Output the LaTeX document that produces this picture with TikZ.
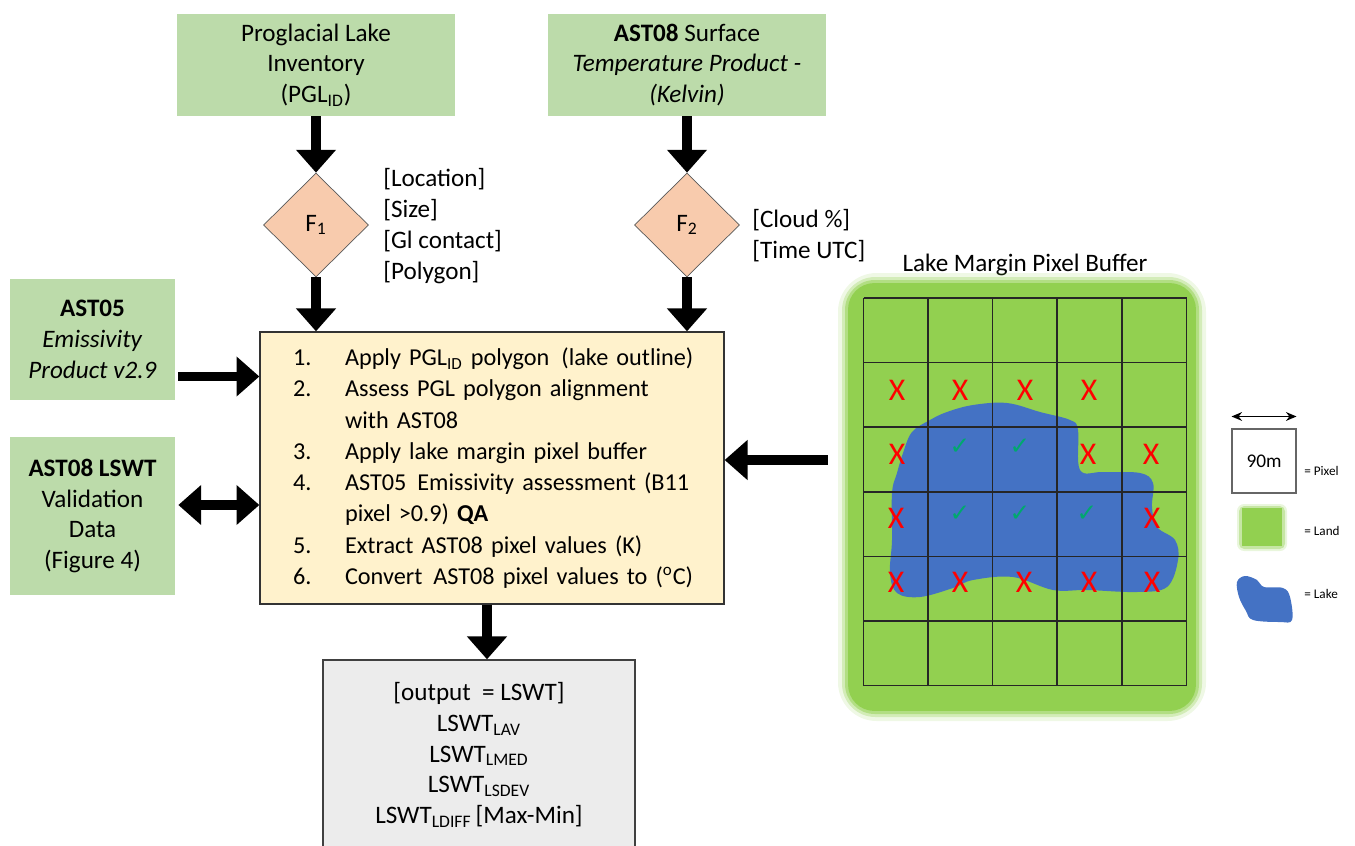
\documentclass[tikz,border=0pt]{standalone}
\usepackage{fontspec}
\setmainfont{Carlito}
\newfontfamily\checkfont{DejaVu Sans}
\usepackage{tikz}
\usetikzlibrary{shapes.geometric,arrows.meta,calc}

\definecolor{boxgreen}{RGB}{188,219,170}
\definecolor{diapeach}{RGB}{248,203,173}
\definecolor{stepcream}{RGB}{255,242,204}
\definecolor{outgrey}{RGB}{236,236,236}
\definecolor{landgreen}{RGB}{146,208,80}
\definecolor{lakeblue}{RGB}{68,114,196}
\definecolor{okgreen}{RGB}{0,168,110}

\newcommand{\stepline}[2]{\mbox{\makebox[1.04cm][l]{#1}#2}}

\tikzset{
  txt/.style={font=\fontsize{14.3}{17.5}\selectfont},
  inbox/.style={txt, fill=boxgreen, align=center, inner sep=0pt},
  filt/.style={txt, diamond, draw=black!65, fill=diapeach, inner sep=0pt, minimum width=2.1cm, minimum height=2.08cm},
  bigarrow/.style={line width=5.5pt, -{Triangle[width=22pt,length=13pt]}},
  bothways/.style={line width=5.5pt, {Triangle[width=22pt,length=13pt]}-{Triangle[width=22pt,length=13pt]}},
  nomark/.style={text=red, font=\fontsize{18}{18}\selectfont, inner sep=0pt},
  okmark/.style={text=okgreen, font=\checkfont\fontsize{14}{14}\selectfont, inner sep=0pt},
  keytxt/.style={font=\fontsize{7.5}{9}\selectfont, anchor=west, inner sep=0pt},
}

\begin{document}
\begin{tikzpicture}[x=0.02cm, y=-0.02cm]
\useasboundingbox (0,0) rectangle (1355,845);
% inputs
\node[inbox, minimum width=5.58cm, minimum height=2.04cm] (pgl) at (316,65) {Proglacial Lake\\Inventory\\(PGL\textsubscript{ID})};
\node[inbox, minimum width=5.56cm, minimum height=2.04cm] (ast08) at (687,65) {\textbf{AST08} Surface\\\textit{Temperature Product -}\\\textit{(Kelvin)}};
\node[inbox, minimum width=3.3cm, minimum height=2.42cm] (ast05) at (92.5,339.5) {\textbf{AST05}\\\textit{Emissivity}\\\textit{Product v2.9}};
\node[inbox, minimum width=3.3cm, minimum height=3.16cm] (lswt) at (92.5,516) {\textbf{AST08 LSWT}\\Validation\\Data\\(Figure 4)};
% filters
\node[filt] (fone) at (316,225) {F\textsubscript{1}};
\node[filt] (ftwo) at (687,225) {F\textsubscript{2}};
\node[txt, align=left, anchor=west, inner sep=0pt] (fonetxt) at (383,226) {[Location]\\{}[Size]\\{}[Gl contact]\\{}[Polygon]};
\node[txt, align=left, anchor=west, inner sep=0pt] (ftwotxt) at (752,236) {[Cloud \%]\\{}[Time UTC]};
% processing steps
\node[font=\fontsize{13.8}{17.8}\selectfont, draw=black!80, line width=0.8pt, fill=stepcream, minimum width=9.28cm, minimum height=5.44cm, text width=7.96cm, align=left, inner sep=0pt] (main) at (492,468) {%
\stepline{1.}{Apply PGL\textsubscript{ID} polygon\hspace{0.5em}(lake outline)}\\
\stepline{2.}{Assess PGL polygon alignment}\\
\stepline{}{with AST08}\\
\stepline{3.}{Apply lake margin pixel buffer}\\
\stepline{4.}{AST05\hspace{0.45em}Emissivity assessment (B11}\\
\stepline{}{pixel >0.9) \textbf{QA}}\\
\stepline{5.}{Extract AST08 pixel values (K)}\\
\stepline{6.}{Convert\hspace{0.45em}AST08 pixel values to (\textsuperscript{o}C)}};
% output
\node[txt, draw=black!75, line width=0.8pt, fill=outgrey, minimum width=6.24cm, minimum height=3.8cm, align=center, inner sep=0pt] (out) at (479,755) {[output\hspace{0.45em}= LSWT]\\LSWT\textsubscript{LAV}\\LSWT\textsubscript{LMED}\\LSWT\textsubscript{LSDEV}\\LSWT\textsubscript{LDIFF}\,[Max-Min]};
% pixel buffer
\node[txt] (buftitle) at (1025,265) {Lake Margin Pixel Buffer};
\fill[landgreen, opacity=0.15, rounded corners=22pt] (838,273) rectangle (1206,721);
\fill[landgreen, opacity=0.3, rounded corners=19pt] (842,277) rectangle (1202,717);
\fill[landgreen, opacity=0.5, rounded corners=17pt] (845,280) rectangle (1199,714);
\node[fill=landgreen, rounded corners=15pt, minimum width=6.96cm, minimum height=8.56cm, inner sep=0pt] (land) at (1022,497) {};
\fill[lakeblue] plot[smooth cycle, tension=0.6] coordinates {(912,432) (930,420) (947,412) (973,405) (1007,403) (1040,412) (1070,420) (1078,430) (1080,470) (1103,472) (1140,473) (1153,483) (1152,507) (1157,527) (1175,540) (1178,560) (1167,587) (1137,592) (1087,590) (1053,590) (1013,577) (973,580) (953,588) (920,597) (897,593) (890,573) (892,540) (892,493) (897,473) (903,453)};
\draw[black!85, line width=0.9pt, shift={(863.5,298)}, step=1.292cm] (0,0) grid (323.5,388.2);
\node[nomark] (x11) at (897,390) {X};
\node[nomark] (x12) at (960,390) {X};
\node[nomark] (x13) at (1025,390) {X};
\node[nomark] (x14) at (1089,390) {X};
\node[nomark] (x21) at (897,454) {X};
\node[nomark] (x24) at (1088,454) {X};
\node[nomark] (x25) at (1151,454) {X};
\node[nomark] (x31) at (896,518) {X};
\node[nomark] (x35) at (1152,518) {X};
\node[nomark] (x41) at (896,582) {X};
\node[nomark] (x42) at (960,582) {X};
\node[nomark] (x43) at (1024,582) {X};
\node[nomark] (x44) at (1089,582) {X};
\node[nomark] (x45) at (1152,582) {X};
\node[okmark] (ok22) at (960,447) {✓};
\node[okmark] (ok23) at (1020,447) {✓};
\node[okmark] (ok32) at (960,514) {✓};
\node[okmark] (ok33) at (1020,514) {✓};
\node[okmark] (ok34) at (1087,514) {✓};
% key
\node[draw=black!60, line width=0.6pt, minimum size=1.28cm, inner sep=0pt, font=\fontsize{11}{11}\selectfont] (pix) at (1264,461) {90m};
\draw[line width=1pt, {Stealth[length=6pt,width=5pt]}-{Stealth[length=6pt,width=5pt]}] ($(pix.north west)+(0,-12)$) -- ($(pix.north east)+(0,-12)$);
\node[keytxt] (pixkey) at (1304,471) {= Pixel};
\fill[landgreen, opacity=0.2, rounded corners=4pt] (1237,504) rectangle (1287,551);
\fill[landgreen, opacity=0.4, rounded corners=3pt] (1239,506) rectangle (1285,549);
\node[fill=landgreen, minimum width=0.8cm, minimum height=0.76cm, inner sep=0pt] (landkey) at (1262,527) {};
\node[keytxt] (landtxt) at (1304,531) {= Land};
\fill[lakeblue] plot[smooth cycle, tension=0.6] coordinates {(1237,582) (1245,576) (1257,580) (1264,587) (1283,588) (1290,597) (1292,620) (1280,622) (1253,620) (1246,611) (1239,597)};
\node[keytxt] (laketxt) at (1304,594) {= Lake};
% connectors
\draw[bigarrow] (pgl.south) -- (fone.north);
\draw[bigarrow] (fone.south) -- (fone.south |- main.north);
\draw[bigarrow] (ast08.south) -- (ftwo.north);
\draw[bigarrow] (ftwo.south) -- (ftwo.south |- main.north);
\draw[bigarrow] ($(ast05.east)+(3,37)$) coordinate (a5) -- (a5 -| main.west);
\draw[bothways] ($(lswt.east)+(3,-11)$) coordinate (a8) -- (a8 -| main.west);
\draw[bigarrow] ($(main.south)+(-5,0)$) coordinate (m6) -- (m6 |- out.north);
\draw[bigarrow] ($(land.west)+(-20,-37)$) coordinate (bufin) -- (bufin -| main.east);
\end{tikzpicture}
\end{document}
